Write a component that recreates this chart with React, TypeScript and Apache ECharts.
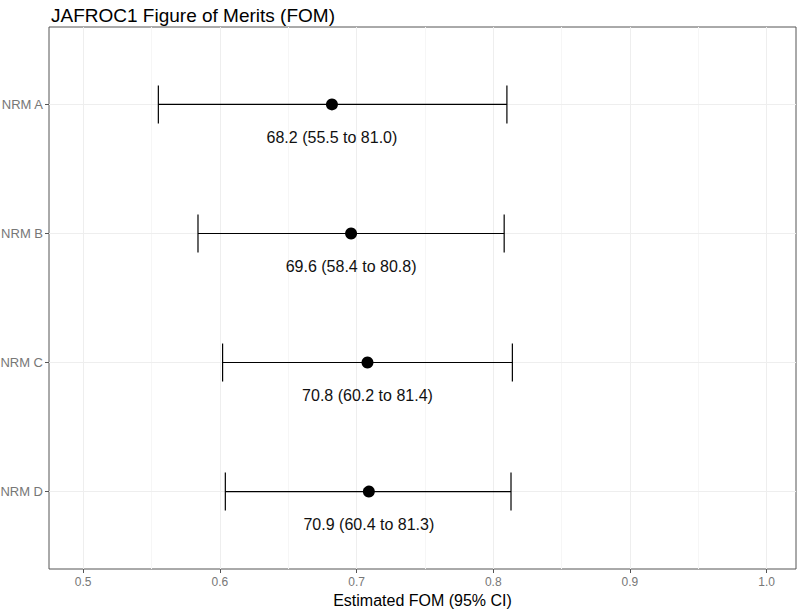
import React, { useEffect, useRef } from "react";
import * as echarts from "echarts";

const categories = ["NRM A", "NRM B", "NRM C", "NRM D"];
const fomValues = [0.682, 0.696, 0.708, 0.709];
const lowerValues = [0.555, 0.584, 0.602, 0.604];
const upperValues = [0.81, 0.808, 0.814, 0.813];
const xTicks = [0.5, 0.6, 0.7, 0.8, 0.9, 1.0];
const xMinorTicks = [0.55, 0.65, 0.75, 0.85, 0.95];
const yPositions = [1, 2, 3, 4];

const FONT = "Liberation Sans, Arial, sans-serif";

export default function App() {
  const ref = useRef<HTMLDivElement>(null);
  useEffect(() => {
    if (!ref.current) return;
    const chart = echarts.init(ref.current, null, { renderer: "svg" });
    const data = categories.map((c, i) => [fomValues[i], yPositions[i], lowerValues[i], upperValues[i]]);
    const fmt = (v: number) => (v * 100).toFixed(1);
    chart.setOption({
      animation: false,
      backgroundColor: "#ffffff",
      textStyle: { fontFamily: FONT },
      title: {
        text: "JAFROC1 Figure of Merits (FOM)",
        left: 46,
        top: 1,
        textStyle: { fontFamily: FONT, fontSize: 19, fontWeight: "normal", color: "#000" },
      },
      grid: {
        left: 49,
        right: 4,
        top: 27,
        bottom: 41,
        show: true,
        borderColor: "#555",
        borderWidth: 1,
        backgroundColor: "transparent",
        containLabel: false,
        outerBoundsMode: "none",
      },
      xAxis: {
        type: "value",
        min: 0.475,
        max: 1.0215,
        name: "Estimated FOM (95% CI)",
        nameLocation: "middle",
        nameGap: 21,
        nameTextStyle: { fontFamily: FONT, fontSize: 16, color: "#000" },
        axisLine: { show: false },
        splitLine: { show: false },
        axisTick: { show: true, length: 4, lineStyle: { color: "#555" }, customValues: xTicks },
        axisLabel: {
          customValues: xTicks,
          color: "#777",
          fontSize: 12,
          margin: 7,
          formatter: (v: number) => v.toFixed(1),
        },
      },
      yAxis: {
        type: "value",
        inverse: true,
        min: 0.4,
        max: 4.6,
        axisLine: { show: false },
        splitLine: { show: false },
        axisTick: { show: true, length: 4, lineStyle: { color: "#555" }, customValues: yPositions },
        axisLabel: {
          customValues: yPositions,
          color: "#777",
          fontSize: 13,
          margin: 6,
          formatter: (v: number) => {
            const idx = yPositions.indexOf(Math.round(v));
            return idx >= 0 ? categories[idx] : "";
          },
        },
      },
      series: [
        {
          type: "scatter",
          data: [],
          z: 1,
          silent: true,
          markLine: {
            silent: true,
            symbol: "none",
            label: { show: false },
            data: [
              ...xMinorTicks.map((v) => ({ xAxis: v, lineStyle: { color: "#f6f6f6", width: 1, type: "solid" } })),
              ...xTicks.map((v) => ({ xAxis: v, lineStyle: { color: "#eeeeee", width: 1, type: "solid" } })),
              ...yPositions.map((v) => ({ yAxis: v, lineStyle: { color: "#eeeeee", width: 1, type: "solid" } })),
            ],
          },
        },
        {
          type: "custom",
          z: 5,
          data,
          encode: { x: [0, 2, 3], y: 1 },
          renderItem: (params: any, api: any) => {
            const fom = api.value(0);
            const y = api.value(1);
            const lo = api.value(2);
            const hi = api.value(3);
            const pLo = api.coord([lo, y]);
            const pHi = api.coord([hi, y]);
            const pM = api.coord([fom, y]);
            const cap = 19;
            const ls = { stroke: "#000", lineWidth: 1.2 };
            return {
              type: "group",
              children: [
                { type: "line", shape: { x1: pLo[0], y1: pLo[1], x2: pHi[0], y2: pHi[1] }, style: ls },
                { type: "line", shape: { x1: pLo[0], y1: pLo[1] - cap, x2: pLo[0], y2: pLo[1] + cap }, style: ls },
                { type: "line", shape: { x1: pHi[0], y1: pHi[1] - cap, x2: pHi[0], y2: pHi[1] + cap }, style: ls },
                { type: "circle", shape: { cx: pM[0], cy: pM[1], r: 6 }, style: { fill: "#000" } },
                {
                  type: "text",
                  x: pM[0],
                  y: pM[1] + 33,
                  style: {
                    text: `${fmt(fom)} (${fmt(lo)} to ${fmt(hi)})`,
                    fontFamily: FONT,
                    fontSize: 16,
                    fill: "#111",
                    align: "center",
                    verticalAlign: "middle",
                  },
                },
              ],
            };
          },
        },
      ],
    });
    return () => chart.dispose();
  }, []);
  return <div ref={ref} style={{ width: 800, height: 610, position: "absolute", left: 0, top: 0 }} />;
}
